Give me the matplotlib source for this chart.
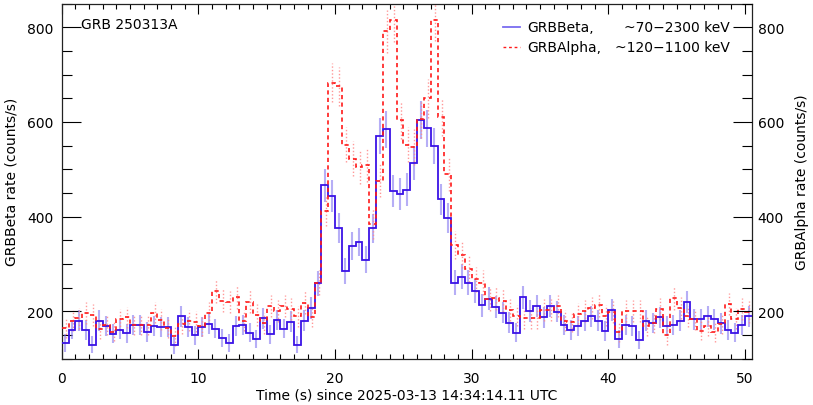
import numpy as np
import matplotlib
matplotlib.use("Agg")
import matplotlib.pyplot as plt
from matplotlib.ticker import MultipleLocator
from matplotlib.lines import Line2D

# ---------------- data ----------------
bin_width = 0.5
t_start = 0.0

beta_rate = [133, 161, 180, 160, 129, 180, 168, 152, 161, 153,
             171, 171, 156, 168, 167, 167, 128, 189, 166, 149,
             166, 173, 163, 143, 133, 169, 171, 154, 141, 185,
             151, 181, 163, 178, 129, 180, 206, 259, 466, 443,
             376, 285, 337, 346, 309, 375, 570, 584, 454, 448,
             457, 513, 604, 586, 549, 436, 397, 260, 273, 260,
             243, 212, 226, 208, 197, 176, 154, 229, 201, 211,
             187, 210, 199, 171, 160, 168, 179, 189, 180, 158,
             202, 141, 170, 169, 139, 180, 175, 187, 169, 171,
             180, 219, 183, 183, 189, 183, 174, 160, 154, 171,
             189]

alpha_rate = [165, 180, 185, 196, 192, 162, 171, 157, 183, 187,
              170, 170, 170, 197, 182, 164, 147, 173, 180, 178,
              168, 196, 243, 222, 219, 229, 180, 220, 192, 174,
              211, 201, 211, 205, 189, 218, 188, 260, 412, 683,
              675, 552, 522, 505, 509, 384, 476, 791, 815, 603,
              552, 547, 606, 650, 816, 610, 490, 340, 319, 290,
              267, 260, 225, 227, 222, 203, 190, 185, 185, 185,
              202, 203, 210, 180, 177, 195, 200, 206, 212, 190,
              198, 155, 200, 200, 200, 168, 175, 204, 149, 227,
              206, 189, 183, 159, 168, 156, 173, 215, 184, 204,
              198]

# approximate Poisson-like uncertainty scale (counts/s)
err_scale = 2.6

title_text = "GRB 250313A"
beta_label = ("GRBBeta,", "~70\u22122300 keV")
alpha_label = ("GRBAlpha,", "~120\u22121100 keV")
xlabel = "Time (s) since 2025-03-13 14:34:14.11 UTC"
ylabel_left = "GRBBeta rate (counts/s)"
ylabel_right = "GRBAlpha rate (counts/s)"

# ---------------- derived ----------------
beta = np.array(beta_rate, float)
alpha = np.array(alpha_rate, float)
edges = t_start + bin_width * np.arange(len(beta) + 1)
centers = 0.5 * (edges[:-1] + edges[1:])
beta_err = np.sqrt(err_scale * beta)
alpha_err = np.sqrt(err_scale * alpha)

BLUE = "#3a12e6"
BLUE_ERR = "#7a6cf0"
RED = "#ff1a1a"
RED_ERR = "#ff8c8c"

plt.rcParams["font.family"] = ["DejaVu Sans"]
plt.rcParams["font.size"] = 10

fig = plt.figure(figsize=(8.13, 4.06), dpi=100)
ax = fig.add_axes([61.7 / 813, 1 - 359.5 / 406, 690.3 / 813, 355 / 406])

# error bars
eb1 = ax.errorbar(centers, beta, yerr=beta_err, fmt="none", ecolor=BLUE_ERR,
                  elinewidth=1.5, alpha=0.55, zorder=2)
eb2 = ax.errorbar(centers + 0.05, alpha, yerr=alpha_err, fmt="none", ecolor=RED_ERR,
                  elinewidth=1.0, alpha=0.9, zorder=2)
for c in eb2[2]:
    c.set_linestyle((0, (1, 1.5)))

# step lines
ax.stairs(beta, edges, baseline=None, color=BLUE, linewidth=1.3, zorder=3)
ax.stairs(alpha, edges, baseline=None, color=RED, linewidth=1.2,
          linestyle=(0, (2.5, 2.0)), zorder=4)

ax.set_xlim(0, 50.5)
ax.set_ylim(100, 850)

ax.xaxis.set_major_locator(MultipleLocator(10))
ax.xaxis.set_minor_locator(MultipleLocator(1))
ax.yaxis.set_major_locator(MultipleLocator(200))
ax.yaxis.set_minor_locator(MultipleLocator(50))

ax.tick_params(axis="x", which="both", direction="in", top=True, bottom=True,
               color="black")
ax.tick_params(axis="x", which="major", length=7, width=0.8, pad=9)
ax.tick_params(axis="x", which="minor", length=3.5, width=0.8)
ax.tick_params(axis="y", which="both", direction="in", left=True, right=False,
               color="black")
ax.tick_params(axis="y", which="major", length=14, width=0.8, pad=6)
ax.tick_params(axis="y", which="minor", length=7, width=0.8)
for s in ax.spines.values():
    s.set_linewidth(0.9)
    s.set_color("#222222")

ax.set_xlabel(xlabel, labelpad=2)
ax.set_ylabel(ylabel_left, labelpad=6)

ax2 = ax.twinx()
ax2.set_ylim(ax.get_ylim())
ax2.yaxis.set_major_locator(MultipleLocator(200))
ax2.yaxis.set_minor_locator(MultipleLocator(50))
ax2.tick_params(axis="y", which="both", direction="in", color="black")
ax2.tick_params(axis="y", which="major", length=14, width=0.8, pad=4)
ax2.tick_params(axis="y", which="minor", length=7, width=0.8)
ax2.set_ylabel(ylabel_right, labelpad=8)
for s in ax2.spines.values():
    s.set_visible(False)

# title inside plot
ax.text(0.028, 0.942, title_text, transform=ax.transAxes, ha="left", va="center")

# legend (manual)
rows = [(0.935, beta_label, dict(color=BLUE_ERR, lw=1.3, ls="-")),
        (0.877, alpha_label, dict(color=RED, lw=1.0, ls=(0, (2, 2))))]
for yy, (name, rng), style in rows:
    ax.add_line(Line2D([0.639, 0.664], [yy, yy], transform=ax.transAxes, **style))
    ax.text(0.675, yy, name, transform=ax.transAxes, ha="left", va="center")
    ax.text(0.968, yy, rng, transform=ax.transAxes, ha="right", va="center")

fig.savefig("out.png", dpi=100)
